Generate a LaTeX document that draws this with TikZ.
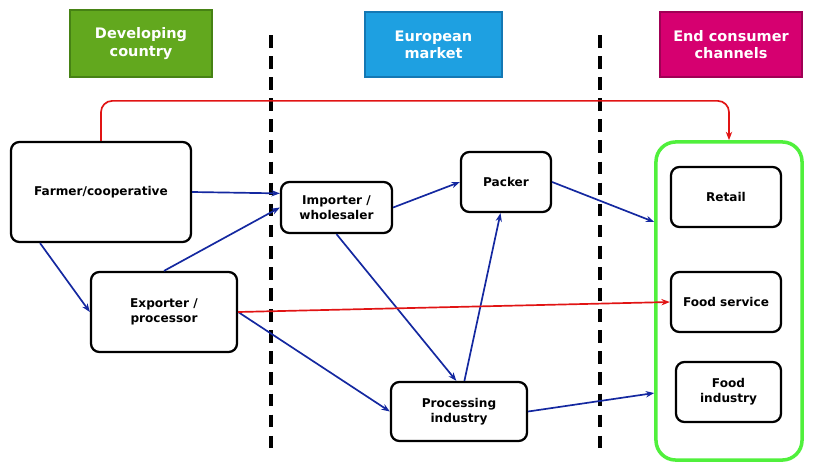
\documentclass[tikz,border=0pt]{standalone}
\usepackage{fontspec}
\setmainfont{DejaVu Sans}
\usetikzlibrary{arrows.meta,positioning}
\definecolor{devgreen}{RGB}{98,168,30}
\definecolor{devgreenline}{RGB}{70,130,20}
\definecolor{eublue}{RGB}{30,160,225}
\definecolor{eublueline}{RGB}{20,120,180}
\definecolor{endmagenta}{RGB}{214,0,112}
\definecolor{endmagentaline}{RGB}{160,0,85}
\definecolor{flowblue}{RGB}{20,40,160}
\definecolor{flowred}{RGB}{225,20,20}
\definecolor{channelgreen}{RGB}{80,240,60}
\begin{document}
\begin{tikzpicture}[
    x=0.025cm,y=-0.025cm,
    every node/.style={font=\fontsize{8.6}{10.6}\selectfont\bfseries,align=center},
    actor/.style={draw,line width=1.6pt,rounded corners=6pt,fill=white},
    header/.style={draw,line width=2pt,text=white,font=\fontsize{10.3}{12.3}\selectfont\bfseries},
    flow/.style={->,>={Stealth[length=6pt]},flowblue,line width=1.2pt},
    money/.style={->,>={Stealth[length=6pt]},flowred,line width=1.2pt}
]
\useasboundingbox (0,0) rectangle (814,474);

% Headers
\node[header,fill=devgreen,draw=devgreenline,minimum width=3.55cm,minimum height=1.675cm] (devcountry) at (141,43.5) {Developing\\country};
\node[header,fill=eublue,draw=eublueline,minimum width=3.425cm,minimum height=1.625cm] (eumarket) at (433.5,44.5) {European\\market};
\node[header,fill=endmagenta,draw=endmagentaline,minimum width=3.55cm,minimum height=1.625cm] (endconsumer) at (731,44.5) {End consumer\\channels};

% Borders between regions
\draw[line width=2.5pt,dash pattern=on 9pt off 6pt] (271,35) -- (271,452);
\draw[line width=2.5pt,dash pattern=on 9pt off 6pt] (600,35) -- (600,452);

% Actors
\node[actor,minimum width=4.5cm,minimum height=2.5cm] (farmer) at (101,192) {Farmer/cooperative};
\node[actor,minimum width=3.65cm,minimum height=2cm] (exporter) at (164,312) {Exporter /\\processor};
\node[actor,minimum width=2.775cm,minimum height=1.275cm] (importer) at (336.5,207.5) {Importer /\\wholesaler};
\node[actor,minimum width=2.25cm,minimum height=1.5cm] (packer) at (506,182) {Packer};
\node[actor,minimum width=3.4cm,minimum height=1.475cm] (processing) at (459,411.5) {Processing\\industry};

% End consumer channels
\node[draw=channelgreen,line width=2.5pt,rounded corners=14pt,minimum width=3.65cm,minimum height=7.95cm] (channels) at (729,301) {};
\node[actor,minimum width=2.75cm,minimum height=1.5cm] (retail) at (726,197) {Retail};
\node[actor,minimum width=2.75cm,minimum height=1.5cm] (foodservice) at (726,302) {Food service};
\node[actor,minimum width=2.625cm,minimum height=1.5cm] (foodindustry) at (728.5,392) {Food\\industry};

% Flows
\draw[flow] (farmer.east) -- (importer.166);
\draw[flow] (farmer.220) -- (exporter.west);
\draw[flow] (exporter.north) -- (importer.west);
\draw[flow] (importer.east) -- (packer.west);
\draw[flow] (importer.south) -- (processing.95);
\draw[flow] (processing.80) -- (packer.260);
\draw[flow] (packer.east) -- ([yshift=1.975cm]channels.west);
\draw[flow] (exporter.east) -- (processing.west);
\draw[flow] (processing.east) -- ([yshift=-2.3cm]channels.west);
\draw[money] (exporter.east) -- (foodservice.west);
\draw[money,rounded corners=8pt] (farmer.north) -- ++(0,-40) -| (channels.north);

\end{tikzpicture}
\end{document}
